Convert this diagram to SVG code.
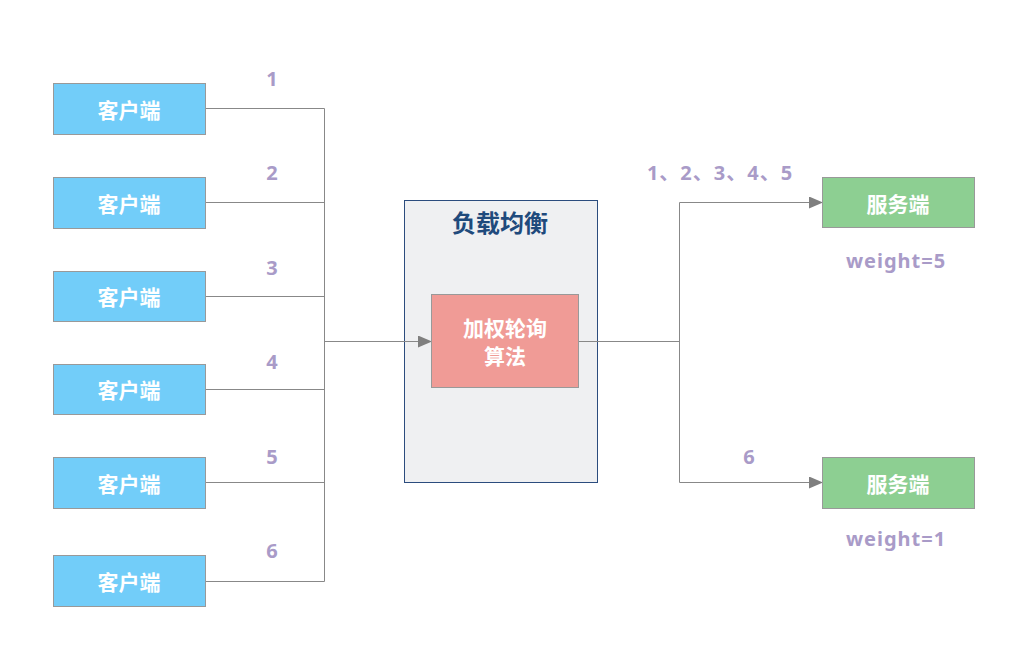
<svg xmlns="http://www.w3.org/2000/svg" width="1024" height="656" viewBox="0 0 1024 656">
<defs>
<style>
.client{fill:#72CDF9;stroke:#999999;stroke-width:1}
.server{fill:#8DCF92;stroke:#999999;stroke-width:1}
.algo{fill:#F09B96;stroke:#999999;stroke-width:1}
.lb{fill:#EFF0F2;stroke:#2B4C7E;stroke-width:1}
.wt{font-family:"Noto Sans CJK SC","Noto Sans",sans-serif;font-weight:bold;fill:#FFFFFF;text-anchor:middle}
.num{font-family:"Noto Sans","Noto Sans CJK SC",sans-serif;font-weight:bold;fill:#A99BC8;font-size:20px;text-anchor:middle}
.title{font-family:"Noto Sans CJK SC",sans-serif;font-weight:bold;fill:#1F4A7C;font-size:24px;text-anchor:middle}
.conn{fill:none;stroke:#888888;stroke-width:1}
</style>
<marker id="arr" markerWidth="14" markerHeight="12" refX="13" refY="6" orient="auto" markerUnits="userSpaceOnUse">
<path d="M0,0 L14,6 L0,12 Z" fill="#7F7F7F"/>
</marker>
</defs>
<rect width="1024" height="656" fill="#FFFFFF"/>
<g id="lb">
<rect class="lb" x="404.5" y="200.5" width="193" height="282"/>
<text class="title" x="500" y="232">负载均衡</text>
</g>
<g id="connectors">
<path class="conn" d="M205.5,108.5 H324.5 V581.5 H205.5"/>
<path class="conn" d="M205.5,202.5 H324.5"/>
<path class="conn" d="M205.5,296.5 H324.5"/>
<path class="conn" d="M205.5,389.5 H324.5"/>
<path class="conn" d="M205.5,482.5 H324.5"/>
<path class="conn" d="M324.5,341.5 H431" marker-end="url(#arr)"/>
<path class="conn" d="M579,341.5 H679.5"/>
<path class="conn" d="M679.5,482.5 V202.5 H822" marker-end="url(#arr)"/>
<path class="conn" d="M679.5,482.5 H822" marker-end="url(#arr)"/>
</g>
<g id="algo">
<rect class="algo" x="431.5" y="294.5" width="147" height="93"/>
<text class="wt" x="505" y="336" font-size="21">加权轮询</text>
<text class="wt" x="505" y="364" font-size="21">算法</text>
</g>
<g id="client1"><rect class="client" x="53.5" y="83.5" width="152" height="51"/><text class="wt" x="129" y="118" font-size="21">客户端</text></g>
<g id="client2"><rect class="client" x="53.5" y="177.5" width="152" height="51"/><text class="wt" x="129" y="212" font-size="21">客户端</text></g>
<g id="client3"><rect class="client" x="53.5" y="271.5" width="152" height="50"/><text class="wt" x="129" y="305" font-size="21">客户端</text></g>
<g id="client4"><rect class="client" x="53.5" y="364.5" width="152" height="50"/><text class="wt" x="129" y="398" font-size="21">客户端</text></g>
<g id="client5"><rect class="client" x="53.5" y="457.5" width="152" height="51"/><text class="wt" x="129" y="492" font-size="21">客户端</text></g>
<g id="client6"><rect class="client" x="53.5" y="555.5" width="152" height="51"/><text class="wt" x="129" y="590" font-size="21">客户端</text></g>
<g id="server1"><rect class="server" x="822.5" y="177.5" width="152" height="50"/><text class="wt" x="898" y="212" font-size="21">服务端</text></g>
<g id="server2"><rect class="server" x="822.5" y="457.5" width="152" height="51"/><text class="wt" x="898" y="492" font-size="21">服务端</text></g>
<g id="labels">
<text class="num" x="272" y="86">1</text>
<text class="num" x="272" y="180">2</text>
<text class="num" x="272" y="275">3</text>
<text class="num" x="272" y="369">4</text>
<text class="num" x="272" y="464">5</text>
<text class="num" x="272" y="558">6</text>
<text class="num" x="720" y="180" font-family="Noto Sans CJK SC, sans-serif" letter-spacing="1">1、2、3、4、5</text>
<text class="num" x="749" y="464">6</text>
<text class="num" x="896" y="268" letter-spacing="1">weight=5</text>
<text class="num" x="896" y="546" letter-spacing="1">weight=1</text>
</g>
</svg>
